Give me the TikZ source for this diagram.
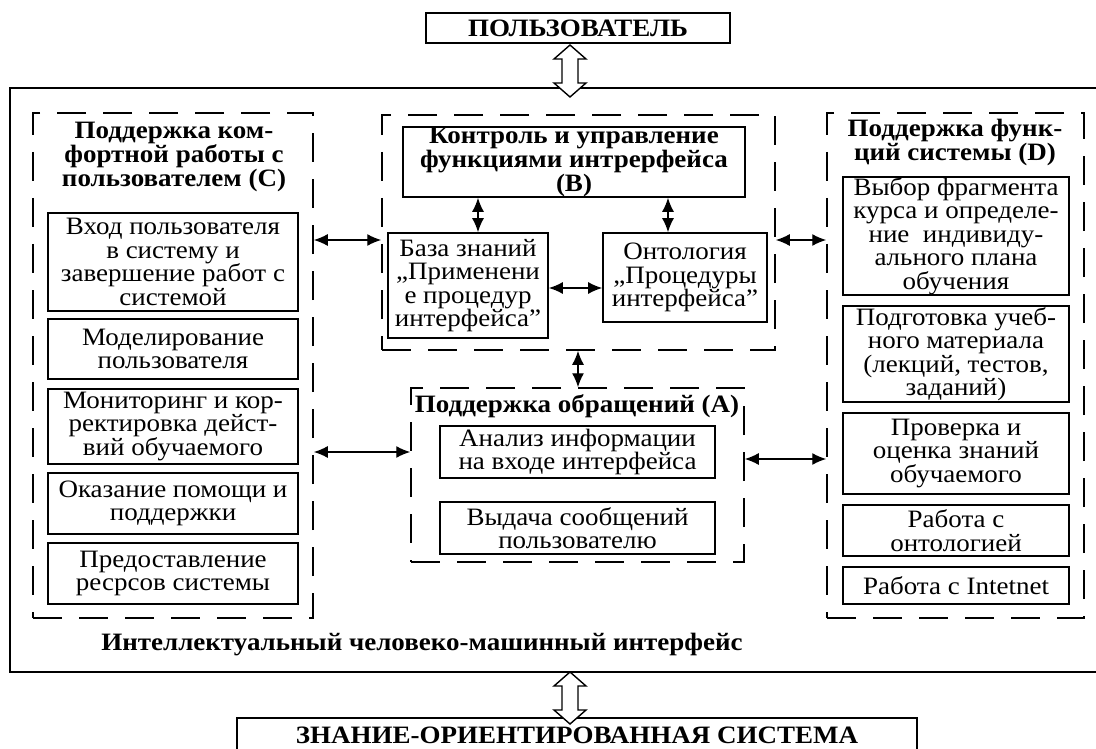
\documentclass[tikz,border=0pt]{standalone}
\usepackage{fontspec}
\setmainfont{Liberation Serif}[FakeStretch=1.08]
\usetikzlibrary{arrows.meta,calc}

\newcommand\bodyfont{\fontsize{25}{23.5}\selectfont}
\newcommand\titlefont{\bfseries\fontsize{25}{24}\selectfont}
\newcommand\headfont{\bfseries\fontsize{25}{21}\selectfont}

\tikzset{
  box/.style={draw, line width=1.6pt, inner sep=0pt, align=center, font=\bodyfont},
  grp/.style={draw, line width=1.5pt, dash pattern=on 29pt off 17pt, inner sep=0pt},
  ttl/.style={inner sep=0pt, align=center, font=\titlefont},
  link/.style={line width=1.4pt, {Latex[length=14pt,width=12pt]}-{Latex[length=14pt,width=12pt]}},
  bigbox/.style={draw, line width=2.3pt, inner sep=0pt},
  hollow/.style={draw, line width=1.4pt, fill=white},
}

% vertical hollow double arrow: x, top tip, bottom tip
\newcommand\hollowarrow[3]{%
  \draw[hollow] (#1,#2) -- (#1+16,#2+14) -- (#1+8,#2+14) -- (#1+8,#3-14)
    -- (#1+16,#3-14) -- (#1,#3) -- (#1-16,#3-14) -- (#1-8,#3-14)
    -- (#1-8,#2+14) -- (#1-16,#2+14) -- cycle;}

\begin{document}
\begin{tikzpicture}[x=1pt,y=-1pt]
\useasboundingbox (0,0) rectangle (1096,749);
\clip (0,0) rectangle (1096,749);

% top and bottom blocks
\node[bigbox, line width=2pt, minimum width=304pt, minimum height=30pt, font=\titlefont]
  (user) at (578,28) {ПОЛЬЗОВАТЕЛЬ};
\node[bigbox, minimum width=1095pt, minimum height=584pt] (hmi) at (557.5,380) {};
\node[bigbox, line width=2pt, minimum width=680pt, text height=25pt, text depth=25pt, anchor=north,
  font=\titlefont] (kos) at (577,717) {ЗНАНИЕ-ОРИЕНТИРОВАННАЯ СИСТЕМА};
\node[anchor=base, inner sep=0pt, font=\titlefont] (hmilabel) at (422,650)
  {Интеллектуальный человеко-машинный интерфейс};

% group C
\node[grp, minimum width=280pt, minimum height=505pt] (gC) at (173,365.5) {};
\node[ttl] (tC) at (174,156.5) {Поддержка ком-\\фортной работы с\\пользователем (С)};
\node[box, minimum width=250pt, minimum height=98pt] (c1) at (173,262)
  {Вход пользователя\\в систему и\\завершение работ с\\системой};
\node[box, minimum width=250pt, minimum height=60pt] (c2) at (173,349)
  {Моделирование\\пользователя};
\node[box, minimum width=250pt, minimum height=75pt] (c3) at (173,426.5)
  {Мониторинг и кор-\\ректировка дейст-\\вий обучаемого};
\node[box, minimum width=250pt, minimum height=61pt] (c4) at (173,503.5)
  {Оказание помощи и\\поддержки};
\node[box, minimum width=250pt, minimum height=61pt] (c5) at (173,573.5)
  {Предоставление\\ресрсов системы};

% group B
\node[grp, minimum width=393pt, minimum height=235pt] (gB) at (578.5,232.5) {};
\node[box, minimum width=342pt, minimum height=70pt, font=\headfont] (b0) at (574,162)
  {Контроль и управление\\функциями интрерфейса\\(B)};
\node[box, minimum width=160pt, minimum height=105pt] (kb) at (468,285.5)
  {База знаний\\„Применени\\е процедур\\интерфейса”};
\node[box, minimum width=164pt, minimum height=89pt] (ont) at (685,277.5)
  {Онтология\\„Процедуры\\интерфейса”};

% group A
\node[grp, minimum width=333pt, minimum height=174pt] (gA) at (577.5,475) {};
\node[anchor=base, inner sep=0pt, font=\titlefont] (tA) at (577,412) {Поддержка обращений (А)};
\node[box, minimum width=275pt, minimum height=52pt] (a1) at (577.5,452)
  {Анализ информации\\на входе интерфейса};
\node[box, minimum width=275pt, minimum height=52pt] (a2) at (577.5,528)
  {Выдача сообщений\\пользователю};

% group D
\node[grp, minimum width=257pt, minimum height=505pt] (gD) at (955.5,365.5) {};
\node[ttl] (tD) at (955,142.5) {Поддержка функ-\\ций системы (D)};
\node[box, minimum width=226pt, minimum height=118pt] (d1) at (956,236)
  {Выбор фрагмента\\курса и определе-\\ние \ индивиду-\\ального плана\\обучения};
\node[box, minimum width=226pt, minimum height=96pt] (d2) at (956,354)
  {Подготовка учеб-\\ного материала\\(лекций, тестов,\\заданий)};
\node[box, minimum width=226pt, minimum height=81pt] (d3) at (956,453.5)
  {Проверка и\\оценка знаний\\обучаемого};
\node[box, minimum width=226pt, minimum height=51pt] (d4) at (956,530.5)
  {Работа с\\онтологией};
\node[box, minimum width=226pt, minimum height=37pt] (d5) at (956,585.5)
  {Работа с Intetnet};

% connector guides
\coordinate (xkb) at (478,0);
\coordinate (xont) at (668,0);
\coordinate (xba) at (578,0);
\coordinate (ykb) at (0,288);
\coordinate (yup) at (0,240);
\coordinate (ylo) at (0,452);
\coordinate (ylo2) at (0,459);

% connectors
\draw[link] (b0.south -| xkb) -- (kb.north -| xkb);
\draw[link] (b0.south -| xont) -- (ont.north -| xont);
\draw[link] (kb.east |- ykb) -- (ont.west |- ykb);
\draw[link] (gC.east |- yup) -- (gB.west |- yup);
\draw[link] (gB.east |- yup) -- (gD.west |- yup);
\draw[link] (gB.south -| xba) -- (gA.north -| xba);
\draw[link] (gC.east |- ylo) -- (gA.west |- ylo);
\draw[link] (gA.east |- ylo2) -- (gD.west |- ylo2);

% hollow arrows to the user and the knowledge system
\hollowarrow{570}{45}{97}
\hollowarrow{570}{672}{724}
\end{tikzpicture}
\end{document}
